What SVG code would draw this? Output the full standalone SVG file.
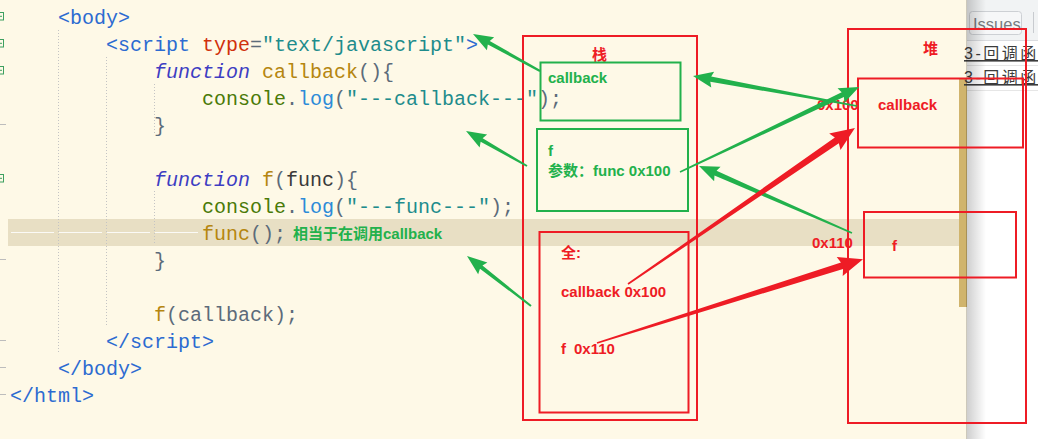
<svg xmlns="http://www.w3.org/2000/svg" width="1038" height="439" viewBox="0 0 1038 439" xml:space="preserve">
<defs>
<style>
.code{font-family:"Liberation Mono","DejaVu Sans Mono",monospace;font-size:20px}
.tag{fill:#2C6BD1}.attr{fill:#D0300C}.str{fill:#1E8C8C}.kw{fill:#3D3DC2;font-style:italic}
.fn{fill:#B5860F}.pun{fill:#5C6B7A}.obj{fill:#4A7A08}.mth{fill:#2D8BD8}.prm{fill:#3A3A3A}
.lbl{font-family:"Liberation Sans","Noto Sans CJK SC",sans-serif;font-size:15px;font-weight:bold}
.g{fill:#22B14C}.r{fill:#EE1C25}
.rbox{fill:none;stroke:#EE1C25;stroke-width:2}
.gbox{fill:none;stroke:#22B14C;stroke-width:2}
.guide{stroke:#C4C4C4;stroke-width:1;stroke-dasharray:1 2}
.fold{fill:none;stroke:#3DA060;stroke-width:1}
.fend{stroke:#BDBDBD;stroke-width:1}
.ws{stroke:#FFFFFF;stroke-width:1.2;opacity:0.85}
.dt{font-family:"Liberation Sans","Noto Sans CJK SC",sans-serif;font-size:16px;letter-spacing:2.5px;fill:#3C3C3C;text-decoration:underline}
</style>
<linearGradient id="shadow" x1="0" y1="0" x2="1" y2="0">
<stop offset="0" stop-color="#000" stop-opacity="0.2"/>
<stop offset="1" stop-color="#000" stop-opacity="0"/>
</linearGradient>
</defs>

<g id="editor">
<rect x="0" y="0" width="967" height="439" fill="#FEF9E7"/>
<rect x="8" y="219" width="951" height="27" fill="#E8DFC4"/>
<line class="ws" x1="11" y1="232.5" x2="54" y2="232.5"/>
<line class="ws" x1="59" y1="232.5" x2="102" y2="232.5"/>
<line class="ws" x1="107" y1="232.5" x2="150" y2="232.5"/>
<line class="ws" x1="155" y1="232.5" x2="198" y2="232.5"/>
<line class="guide" x1="58.5" y1="30" x2="58.5" y2="352"/>
<line class="guide" x1="106.5" y1="57" x2="106.5" y2="327"/>
<line class="guide" x1="154.5" y1="84" x2="154.5" y2="134"/>
<line class="guide" x1="154.5" y1="191" x2="154.5" y2="245"/>
<rect class="fold" x="-4" y="12.5" width="7.5" height="7.5"/><line class="fold" x1="0" y1="16.3" x2="2" y2="16.3"/>
<rect class="fold" x="-4" y="39.5" width="7.5" height="7.5"/><line class="fold" x1="0" y1="43.3" x2="2" y2="43.3"/>
<rect class="fold" x="-4" y="66.5" width="7.5" height="7.5"/><line class="fold" x1="0" y1="70.3" x2="2" y2="70.3"/>
<rect class="fold" x="-4" y="174.5" width="7.5" height="7.5"/><line class="fold" x1="0" y1="178.3" x2="2" y2="178.3"/>
<line class="fend" x1="0" y1="124.5" x2="6" y2="124.5"/>
<line class="fend" x1="0" y1="259.5" x2="6" y2="259.5"/>
<line class="fend" x1="0" y1="340.5" x2="6" y2="340.5"/>
<line class="fend" x1="0" y1="367.5" x2="6" y2="367.5"/>
<line class="fend" x1="0" y1="394.5" x2="6" y2="394.5"/>
<rect x="959" y="78" width="8" height="229" fill="#D0B46C"/>

<g class="code">
<text x="58" y="24"><tspan class="tag">&lt;body&gt;</tspan></text>
<text x="106" y="51"><tspan class="tag">&lt;script</tspan> <tspan class="attr">type</tspan><tspan class="pun">=</tspan><tspan class="str">"text/javascript"</tspan><tspan class="tag">&gt;</tspan></text>
<text x="154" y="78"><tspan class="kw">function</tspan> <tspan class="fn">callback</tspan><tspan class="pun">(){</tspan></text>
<text x="202" y="105"><tspan class="obj">console</tspan><tspan class="pun">.</tspan><tspan class="mth">log</tspan><tspan class="pun">(</tspan><tspan class="str">"---callback---"</tspan><tspan class="pun">);</tspan></text>
<text x="154" y="132"><tspan class="pun">}</tspan></text>
<text x="154" y="186"><tspan class="kw">function</tspan> <tspan class="fn">f</tspan><tspan class="pun">(</tspan><tspan class="prm">func</tspan><tspan class="pun">){</tspan></text>
<text x="202" y="213"><tspan class="obj">console</tspan><tspan class="pun">.</tspan><tspan class="mth">log</tspan><tspan class="pun">(</tspan><tspan class="str">"---func---"</tspan><tspan class="pun">);</tspan></text>
<text x="202" y="240"><tspan class="fn">func</tspan><tspan class="pun">();</tspan></text>
<text x="154" y="267"><tspan class="pun">}</tspan></text>
<text x="154" y="321"><tspan class="fn">f</tspan><tspan class="pun">(callback);</tspan></text>
<text x="106" y="348"><tspan class="tag">&lt;/script&gt;</tspan></text>
<text x="58" y="375"><tspan class="tag">&lt;/body&gt;</tspan></text>
<text x="10" y="402"><tspan class="tag">&lt;/html&gt;</tspan></text>
</g>
<text class="lbl g" x="293" y="238.5">相当于在调用callback</text>
</g>

<g id="devtools">
<rect x="967" y="0" width="71" height="439" fill="#FFFFFF"/>
<rect x="967" y="0" width="71" height="40" fill="#F1F3F4"/>
<line x1="967" y1="40.5" x2="1038" y2="40.5" stroke="#DADCE0"/>
<rect x="969.5" y="11.5" width="52" height="23" rx="3" fill="#F6F7F8" stroke="#CDD0D4"/>
<text x="973" y="29.5" font-family="Liberation Sans, sans-serif" font-size="16.5" fill="#777B80">Issues</text>
<line x1="1033.5" y1="12" x2="1033.5" y2="33" stroke="#C8CBCF"/>
<text class="dt" x="964" y="59">3-回调函数</text>
<line x1="967" y1="65.5" x2="1038" y2="65.5" stroke="#E6E6E6"/>
<text class="dt" x="964" y="83">3-回调函数</text>
<line x1="967" y1="90.5" x2="1038" y2="90.5" stroke="#E6E6E6"/>
<rect x="966" y="0" width="20" height="439" fill="url(#shadow)"/>
</g>

<g id="stack">
<rect class="rbox" x="523" y="36" width="174" height="384"/>
<text class="lbl r" x="592" y="60" font-weight="normal">栈</text>
</g>
<g id="stack-callback">
<rect class="gbox" x="540.5" y="62.5" width="140" height="58"/>
<text class="lbl g" x="548" y="82.5">callback</text>
</g>
<g id="stack-f">
<rect class="gbox" x="537" y="129" width="151" height="82"/>
<text class="lbl g" x="548" y="156">f</text>
<text class="lbl g" x="548" y="176">参数：func 0x100</text>
</g>
<g id="stack-global">
<rect class="rbox" x="539.5" y="232" width="149" height="180.5"/>
<text class="lbl r" x="561" y="258">全:</text>
<text class="lbl r" x="561" y="296.5">callback 0x100</text>
<text class="lbl r" x="561" y="353.5">f</text>
<text class="lbl r" x="574" y="353.5">0x110</text>
</g>
<g id="heap">
<rect class="rbox" x="848" y="29" width="178" height="394"/>
<text class="lbl r" x="923" y="54" font-weight="normal">堆</text>
</g>
<g id="heap-callback">
<rect class="rbox" x="858" y="78.5" width="165" height="69"/>
<text class="lbl r" x="878" y="110">callback</text>
<text class="lbl r" x="817" y="110">0x100</text>
</g>
<g id="heap-f">
<rect class="rbox" x="864" y="212" width="152" height="65.5"/>
<text class="lbl r" x="892" y="250.5">f</text>
<text class="lbl r" x="812" y="247.5">0x110</text>
</g>

<g id="connectors">
<path fill="#22B14C" d="M0,-1 L58.5,-2 L56.5,-7.5 L76.5,0 L56.5,7.5 L58.5,2 L0,1 Z" transform="translate(540,71) rotate(208.9)"/>
<path fill="#22B14C" d="M0,-1 L52.3,-2 L50.3,-7.5 L70.3,0 L50.3,7.5 L52.3,2 L0,1 Z" transform="translate(527,166) rotate(209.85)"/>
<path fill="#22B14C" d="M0,-1 L63.2,-2 L61.2,-7.5 L81.2,0 L61.2,7.5 L63.2,2 L0,1 Z" transform="translate(531,306) rotate(218)"/>
<path fill="#22B14C" d="M0,-0.8 L148.7,-2.6 L146.7,-8 L166.7,0 L146.7,8 L148.7,2.6 L0,0.8 Z" transform="translate(857,106) rotate(190.4)"/>
<path fill="#22B14C" d="M0,-0.8 L180.2,-2.6 L178.2,-8 L198.2,0 L178.2,8 L180.2,2.6 L0,0.8 Z" transform="translate(680,172) rotate(-25.4)"/>
<path fill="#22B14C" d="M0,-0.8 L149,-2.6 L147,-8 L167,0 L147,8 L149,2.6 L0,0.8 Z" transform="translate(852,233) rotate(203.65)"/>
<path fill="#EE1C25" d="M0,-0.8 L253.4,-3.5 L251,-10 L275.4,0 L251,10 L253.4,3.5 L0,0.8 Z" transform="translate(628,284) rotate(-34.5)"/>
<path fill="#EE1C25" d="M0,-0.8 L256.9,-3.5 L254.5,-10 L278.9,0 L254.5,10 L256.9,3.5 L0,0.8 Z" transform="translate(597,343) rotate(-17.5)"/>
</g>
</svg>
